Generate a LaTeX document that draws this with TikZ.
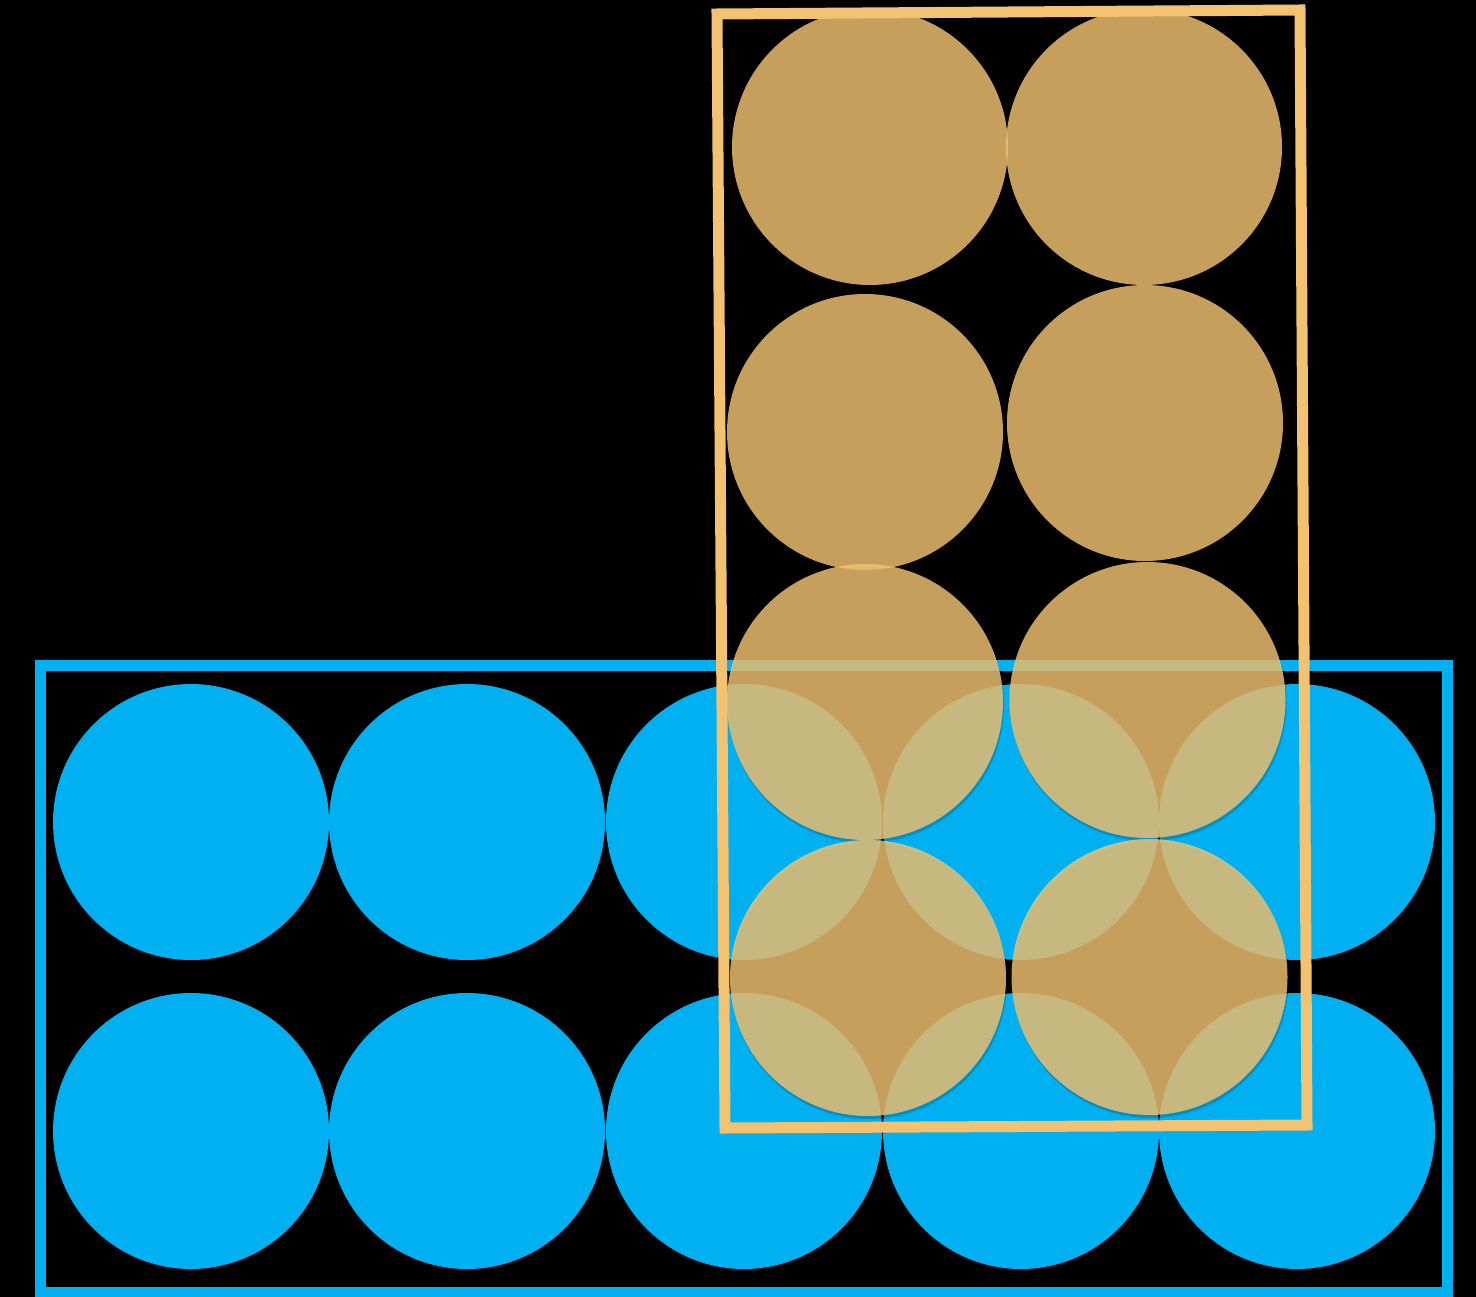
\documentclass[tikz,border=0pt]{standalone}
\begin{document}
\begin{tikzpicture}[x=1pt,y=-1pt,
  bluec/.style={fill=cblue,draw=none},
  orangec/.style={fill=corange,fill opacity=0.82,draw=none},
  bluebox/.style={draw=cblue,line width=11pt},
  orangebox/.style={draw=corange,line width=11pt,line join=miter}]
\definecolor{cblue}{HTML}{00B0F0}
\definecolor{corange}{HTML}{F2C271}
\fill[black] (0,0) rectangle (1476,1297);
\useasboundingbox (0,0) rectangle (1476,1297);
% blue box
\draw[bluebox] (40,665) rectangle (1447,1292.5);
% blue circles
\foreach \i/\x in {1/191,2/467,3/744,4/1021,5/1297}{
  \fill[bluec] (\x,822) circle (138) coordinate (b1\i);
  \fill[bluec] (\x,1131) circle (138) coordinate (b2\i);
}
% orange circles
\foreach \n/\x/\y in {a/870/147,b/1144/147,c/865/432,d/1145/423,e/865/702,f/1147.5/700,g/868/978,h/1149.5/977}{
  \fill[black,opacity=0.18] (\x+1,\y+3) circle (138);
  \fill[orangec] (\x,\y) circle (138) coordinate (o\n);
}
% orange box
\coordinate (tl) at (717,14);
\coordinate (tr) at (1300,10);
\coordinate (br) at (1307,1125);
\coordinate (bl) at (725,1128);
\draw[orangebox] (tl) -- (tr) -- (br) -- (bl) -- cycle;
\end{tikzpicture}
\end{document}
